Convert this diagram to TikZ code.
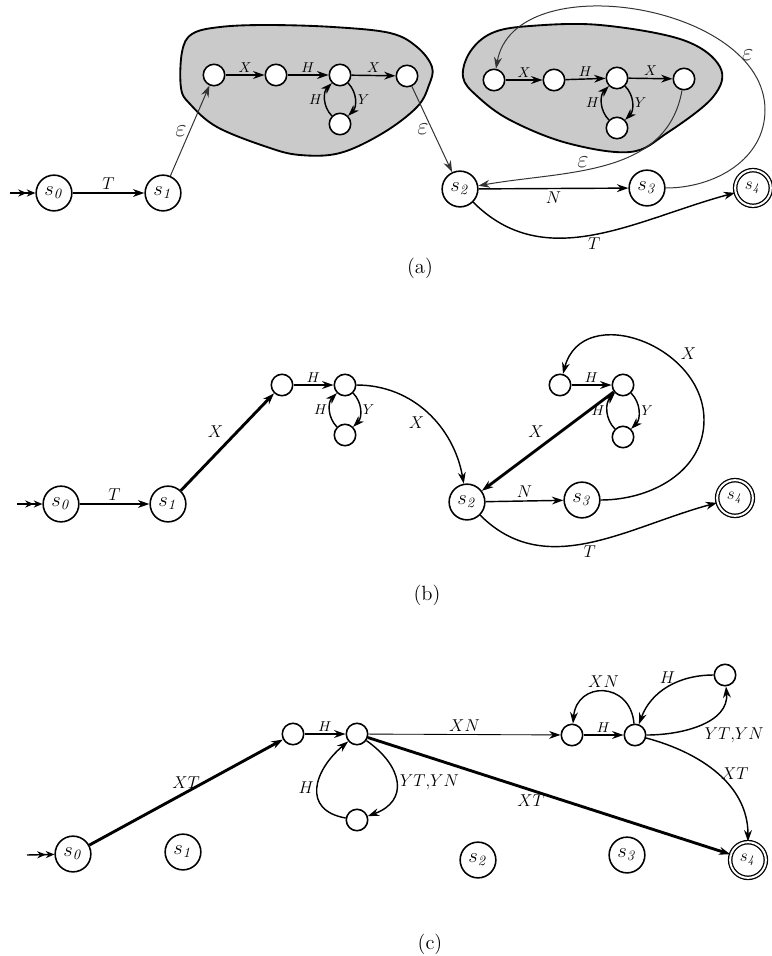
\documentclass[tikz,border=0pt]{standalone}
\usepackage{amsmath}
\usepackage{amssymb}
\usepackage{tikz}
\usetikzlibrary{arrows.meta}
\definecolor{BlobGray}{HTML}{CACACA}
\definecolor{EpsBlack}{HTML}{333333}
\tikzset{
  state/.style={circle, draw, line width=1.1pt, minimum size=25pt, inner sep=0pt, font=\Large},
  accept/.style={state, double, double distance=1.4pt, line width=0.9pt, font=\large},
  mini/.style={circle, draw, fill=white, line width=1.1pt, minimum size=15pt, inner sep=0pt},
  trans/.style={-{Stealth[length=8pt,width=5.5pt]}, line width=1pt},
  htrans/.style={trans, line width=2pt},
  ltrans/.style={trans, line width=0.6pt},
  etrans/.style={trans, line width=0.7pt, EpsBlack},
  init/.style={-{Stealth[length=6pt,width=5pt]Stealth[length=6pt,width=5pt]}, line width=1pt},
  lab/.style={font=\large, inner sep=2pt},
  slab/.style={font=\normalsize, inner sep=1.5pt},
  elab/.style={font=\LARGE, inner sep=2pt},
  blob/.style={fill=BlobGray, draw, line width=1.3pt},
}

\begin{document}
\begin{tikzpicture}[x=0.7pt, y=-0.7pt]
    \useasboundingbox (0,0) rectangle (772,956);
    % (a) shaded subautomata
    \draw[blob] plot[smooth cycle, tension=0.6] coordinates {(181,88)
    (182,52) (192,34) (220,27) (267,25) (333,27) (390,33) (417,47)
    (432,67) (429,85) (417,107) (383,133) (340,153) (300,155) (267,147)
    (217,127) (190,104)};
    \draw[blob] plot[smooth cycle, tension=0.6] coordinates {(463,77)
    (470,52) (492,33) (530,26) (600,25) (683,40) (720,67) (713,97)
    (667,133) (630,152) (567,143) (510,120) (477,96)};
    % (a) states
    \coordinate (ain) at (10,193);
    \node[state] (a0) at (54,193) {$s_{\mathit{0}}$};
    \node[state] (a1) at (163,193) {$s_{\mathit{1}}$};
    \node[state] (a2) at (460,189) {$s_{\mathit{2}}$};
    \node[state] (a3) at (647,188) {$s_{\mathit{3}}$};
    \node[accept] (a4) at (753,188) {$s_{\mathit{4}}$};
    \node[mini] (ap1) at (214,75) {};
    \node[mini] (ap2) at (276,75) {};
    \node[mini] (ap3) at (340,75) {};
    \node[mini] (ap4) at (340,124) {};
    \node[mini] (ap5) at (407,76) {};
    \node[mini] (aq1) at (494,80) {};
    \node[mini] (aq2) at (554,80) {};
    \node[mini] (aq3) at (617,78) {};
    \node[mini] (aq4) at (617,128) {};
    \node[mini] (aq5) at (684,79) {};
    \node (acap) at (420,268) {\Large (a)};
    % (a) transitions
    \draw[init] (ain) -- (a0);
    \draw[trans] (a0) -- node[lab, above] {$T$} (a1);
    \draw[etrans] (a1) -- node[elab, left] {$\varepsilon$} (ap1);
    \draw[trans] (ap1) -- node[slab, above] {$X$} (ap2);
    \draw[trans] (ap2) -- node[slab, above] {$H$} (ap3);
    \draw[trans] (ap3) -- node[slab, above] {$X$} (ap5);
    \draw[trans] (ap3) to[bend left=45] node[slab, right] {$Y$} (ap4);
    \draw[trans] (ap4) to[bend left=45] node[slab, left] {$H$} (ap3);
    \draw[etrans] (ap5) -- node[elab, left] {$\varepsilon$} (a2);
    \draw[trans] (aq1) -- node[slab, above] {$X$} (aq2);
    \draw[trans] (aq2) -- node[slab, above] {$H$} (aq3);
    \draw[trans] (aq3) -- node[slab, above] {$X$} (aq5);
    \draw[trans] (aq3) to[bend left=45] node[slab, right] {$Y$} (aq4);
    \draw[trans] (aq4) to[bend left=45] node[slab, left] {$H$} (aq3);
    \draw[etrans] (aq5) to[out=-100, in=10] node[elab, pos=0.6, above]
    {$\varepsilon$} (a2);
    \draw[etrans] (a3) to[out=0, in=-90] (765,110) to[out=90, in=80]
    node[elab, pos=0.2, right] {$\varepsilon$} (aq1);
    \draw[trans] (a2) -- node[lab, below] {$N$} (a3);
    \draw[trans] (a2) to[out=-45, in=-165] node[lab, below] {$T$} (a4);

    % (b) states
    \coordinate (bin) at (17,504);
    \node[state] (b0) at (61,504) {$s_{\mathit{0}}$};
    \node[state] (b1) at (168,504) {$s_{\mathit{1}}$};
    \node[state] (b2) at (467,502) {$s_{\mathit{2}}$};
    \node[state] (b3) at (582,500) {$s_{\mathit{3}}$};
    \node[accept] (b4) at (735,498) {$s_{\mathit{4}}$};
    \node[mini] (bp1) at (282,385) {};
    \node[mini] (bp2) at (345,385) {};
    \node[mini] (bp3) at (345,435) {};
    \node[mini] (bq1) at (560,385) {};
    \node[mini] (bq2) at (623,385) {};
    \node[mini] (bq3) at (623,437) {};
    \node (bcap) at (427,595) {\Large (b)};
    % (b) transitions
    \draw[init] (bin) -- (b0);
    \draw[trans] (b0) -- node[lab, above] {$T$} (b1);
    \draw[htrans] (b1) -- node[lab, above left] {$X$} (bp1);
    \draw[trans] (bp1) -- node[slab, above] {$H$} (bp2);
    \draw[trans] (bp2) to[bend left=45] node[slab, right] {$Y$} (bp3);
    \draw[trans] (bp3) to[bend left=45] node[slab, left] {$H$} (bp2);
    \draw[trans] (bp2) to[out=0, in=100] node[lab, below left] {$X$} (b2);
    \draw[trans] (bq1) -- node[slab, above] {$H$} (bq2);
    \draw[trans] (bq2) to[bend left=45] node[slab, right] {$Y$} (bq3);
    \draw[trans] (bq3) to[bend left=45] node[slab, left] {$H$} (bq2);
    \draw[htrans] (bq2) -- node[lab, above left] {$X$} (b2);
    \draw[trans] (b3) to[out=0, in=-90] (704,420) to[out=90, in=75,
    looseness=1.3] node[lab, pos=0.3, above right] {$X$} (bq1);
    \draw[trans] (b2) -- node[lab, above] {$N$} (b3);
    \draw[trans] (b2) to[out=-45, in=-165] node[lab, below] {$T$} (b4);

    % (c) states
    \coordinate (cin) at (27,855);
    \node[state] (c0) at (73,854) {$s_{\mathit{0}}$};
    \node[state] (c1) at (183,852) {$s_{\mathit{1}}$};
    \node[state] (c2) at (478,860) {$s_{\mathit{2}}$};
    \node[state] (c3) at (627,855) {$s_{\mathit{3}}$};
    \node[accept] (c4) at (748,860) {$s_{\mathit{4}}$};
    \node[mini] (cp1) at (293,734) {};
    \node[mini] (cp2) at (357,734) {};
    \node[mini] (cp3) at (357,820) {};
    \node[mini] (cq1) at (572,735) {};
    \node[mini] (cq2) at (635,735) {};
    \node[mini] (cq3) at (725,675) {};
    \node (ccap) at (430,944) {\Large (c)};
    % (c) transitions
    \draw[init] (cin) -- (c0);
    \draw[htrans] (c0) -- node[lab, above] {$XT$} (cp1);
    \draw[trans] (cp1) -- node[slab, above] {$H$} (cp2);
    \draw[trans] (cp2) to[out=-35, in=20, looseness=1.5] node[lab, right]
    {$YT{,}YN$} (cp3);
    \draw[trans] (cp3) to[out=170, in=-140, looseness=1.5] node[lab, left]
    {$H$} (cp2);
    \draw[ltrans] (cp2) -- node[lab, above] {$XN$} (cq1);
    \draw[htrans] (cp2) -- node[lab, below, pos=0.45] {$XT$} (c4);
    \draw[trans] (cq1) -- node[slab, above] {$H$} (cq2);
    \draw[trans] (cq2) to[out=95, in=85, looseness=1.8] node[lab, above]
    {$XN$} (cq1);
    \draw[trans] (cq3) to[out=180, in=70] node[lab, above] {$H$} (cq2);
    \draw[trans] (cq2) to[out=0, in=-85] node[lab, below right]
    {$YT{,}YN$} (cq3);
    \draw[trans] (cq2) to[out=-15, in=90] node[lab, right] {$XT$} (c4);
\end{tikzpicture}
\end{document}
